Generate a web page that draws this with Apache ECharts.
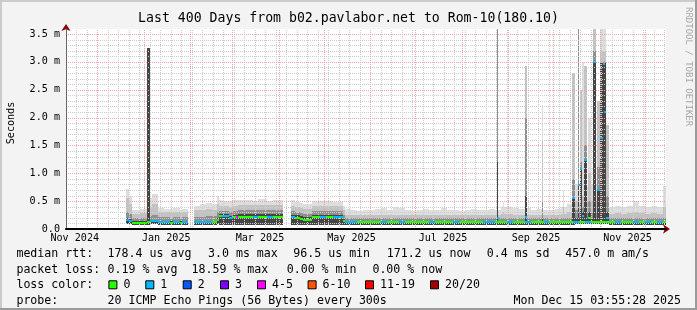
<!DOCTYPE html>
<html><head><meta charset="utf-8">
<script src="https://cdn.jsdelivr.net/npm/echarts@6/dist/echarts.min.js"></script>
<style>html,body{margin:0;padding:0;background:#f3f3f3}#c{width:697px;height:310px}</style>
</head><body><div id="c"></div>
<script>
// ---------- time range ----------
const endTime = Date.UTC(2025, 11, 15, 3, 55, 28);
const rangeDays = 400;
const DAY = 864e5;
const startTime = endTime - rangeDays * DAY;

// ---------- data (x in days since start, y in ms) ----------
const segStart = [
  40, 42, 44, 49.3, 54.3, 55.7, 57.3, 61.3, 65.3, 69.3, 71.3, 76, 77.3,
  85.3, 89.3, 93.3, 97.3, 100.7, 102, 104, 108.7, 111.3, 113.3, 114.7, 124.7, 128, 134, 138,
  150, 152.7, 156, 158, 164, 169.3, 173.3, 178, 184.7,
  186, 190, 194, 198, 202, 206, 210, 214, 218, 222, 226, 230, 234, 238, 242, 246, 250, 254, 258, 262,
  266, 270, 274, 278, 282, 286, 290, 294, 298, 302, 306, 310, 314, 318, 322, 326, 330, 334, 338, 342,
  346, 350, 354, 358, 362, 366, 370, 374, 378, 382, 386, 390, 394, 398,
  287.3, 291.3, 306, 317.3, 331.3, 337.3, 341.3, 342.7, 343.7, 345.3, 347.7, 351, 353.7, 356.3, 357.7, 358.7, 360.3
];
const segEnd = [
  42, 44, 49.3, 54.3, 55.7, 57.3, 61.3, 65.3, 69.3, 71.3, 76, 77.3, 81.3,
  89.3, 93.3, 97.3, 100.7, 102, 104, 108.7, 111.3, 113.3, 114.7, 124.7, 128, 134, 138, 144.7,
  152.7, 156, 158, 164, 169.3, 173.3, 178, 184.7, 186,
  190, 194, 198, 202, 206, 210, 214, 218, 222, 226, 230, 234, 238, 242, 246, 250, 254, 258, 262, 266,
  270, 274, 278, 282, 286, 290, 294, 298, 302, 306, 310, 314, 318, 322, 326, 330, 334, 338, 342, 346,
  350, 354, 358, 362, 366, 370, 374, 378, 382, 386, 390, 394, 398, 400,
  288.3, 292.3, 307.3, 318.3, 332.3, 339.3, 342.3, 343.7, 345, 347.3, 349.7, 353.3, 355.7, 357.7, 358.7, 360, 362.3
];
const smokeLo = [
  .09, .09, .08, .08, .08, .09, .09, .08, .08, .08, .08, .08, .08,
  .08, .08, .08, .08, .09, .08, .08, .08, .08, .08, .08, .08, .08, .08, .08,
  .08, .08, .08, .08, .08, .08, .08, .08, .08,
  .08, .08, .08, .08, .08, .08, .08, .08, .08, .08, .08, .08, .08, .08, .08, .08, .08, .08, .08, .08,
  .08, .08, .08, .08, .08, .08, .08, .08, .08, .08, .08, .08, .08, .08, .08, .08, .08, .08, .09, .09,
  .09, .09, .09, .09, .08, .08, .08, .08, .08, .08, .08, .08, .08, .08,
  .08, .08, .08, .08, .08, .08, .09, .09, .09, .09, .09, .09, .09, .09, .09, .09, .09
];
const smokeU1 = [
  .20, .18, .14, .14, 3.25, .17, .17, .14, .14, .14, .14, .14, .14,
  .14, .14, .15, .15, .20, .27, .27, .24, .26, .26, .27, .27, .27, .27, .27,
  .26, .25, .23, .21, .26, .26, .26, .26, .18,
  .15, .15, .15, .15, .15, .15, .15, .15, .15, .15, .15, .15, .15, .15, .15, .15, .15, .15, .15, .15,
  .15, .15, .15, .15, .15, .15, .15, .15, .15, .15, .15, .15, .15, .15, .15, .15, .15, .15, .20, .20,
  .20, .20, .20, .18, .15, .15, .15, .15, .15, .15, .15, .15, .15, .15,
  1.2, .15, .6, .2, .15, .56, .79, 1.07, .3, 1.24, .3, 3.0, .7, 2.98, 2.98, 2.98, .3
];
const smokeU2 = [
  .30, .27, .19, .20, 3.25, .24, .25, .21, .21, .20, .21, .20, .21,
  .22, .22, .23, .23, .30, .33, .33, .31, .33, .33, .34, .34, .34, .34, .34,
  .33, .31, .29, .27, .33, .33, .33, .33, .25,
  .19, .19, .19, .19, .19, .19, .19, .19, .19, .19, .19, .19, .19, .19, .19, .19, .19, .19, .19, .19,
  .19, .19, .19, .19, .19, .19, .19, .19, .19, .19, .19, .19, .19, .19, .19, .19, .19, .20, .35, .30,
  .30, .30, .30, .28, .19, .19, .19, .19, .19, .19, .19, .19, .19, .19,
  3.8, .2, 2.0, .5, .2, .9, 3.8, 1.2, .4, 1.5, .5, 3.2, 1.12, 3.0, 3.0, 3.0, .6
];
const smokeU3 = [
  .55, .45, .27, .28, 3.25, .40, .45, .30, .30, .29, .30, .29, .30,
  .34, .35, .36, .35, .45, .42, .42, .40, .42, .42, .43, .43, .43, .43, .43,
  .42, .40, .38, .36, .42, .42, .42, .42, .35,
  .25, .25, .25, .25, .25, .25, .25, .25, .26, .25, .25, .25, .25, .25, .25, .25, .25, .25, .25, .25,
  .25, .25, .25, .25, .25, .25, .27, .27, .26, .25, .25, .25, .25, .25, .25, .25, .27, .30, .50, .45,
  .50, .50, .45, .40, .27, .28, .27, .28, .30, .28, .27, .28, .27, .40,
  3.8, .3, 2.92, 1.6, .4, 2.8, 3.8, 2.5, .6, 2.93, 1.0, 3.8, 2.29, 3.2, 3.2, 3.2, 1.87
];
const smokeU4 = [
  .72, .60, .34, .36, 3.25, .55, .62, .37, .36, .36, .37, .35, .36,
  .42, .44, .47, .45, .60, .52, .50, .50, .52, .52, .52, .51, .53, .50, .52,
  .52, .48, .46, .45, .50, .50, .50, .48, .42,
  .36, .35, .33, .35, .34, .36, .37, .35, .40, .38, .34, .33, .35, .36, .34, .35, .37, .34, .35, .33,
  .34, .36, .35, .34, .36, .35, .40, .40, .38, .36, .37, .35, .36, .35, .34, .36, .40, .45, .80, .70,
  .75, .80, .70, .60, .40, .42, .40, .42, .50, .42, .40, .42, .40, .78,
  3.8, .49, 2.92, 2.22, .7, 2.8, 3.8, 2.5, 3.0, 2.93, 2.0, 3.8, 2.29, 3.8, 3.8, 3.8, 1.87
];
const medianMs = [
  .16, .14, .11, .11, .12, .15, .15, .12, .12, .11, .12, .11, .12,
  .12, .12, .12, .12, .16, .23, .23, .19, .22, .22, .22, .22, .22, .22, .22,
  .21, .20, .18, .16, .21, .21, .21, .21, .14,
  .125, .125, .125, .125, .125, .125, .125, .125, .125, .125, .125, .125, .125, .125, .125, .125, .125, .125, .125, .125,
  .125, .125, .125, .125, .125, .125, .125, .125, .125, .125, .125, .125, .125, .125, .125, .125, .125, .125, .13, .13,
  .13, .13, .13, .13, .125, .125, .125, .125, .125, .125, .125, .125, .125, .125,
  .2, .125, .22, .125, .125, .55, .79, 1.07, .23, 1.24, .2, 3.0, .7, 1.63, 2.96, 2.1, .2
];
const lossClass = [
  1, 1, 0, 0, 0, 1, 1, 1, 1, 0, 1, 0, 1,
  1, 1, 1, 0, 0, 0, 1, 1, 0, 4, 0, 1, 0, 1, 0,
  1, 0, 0, 0, 0, 1, 0, 1, 0,
  1, 1, 0, 0, 0, 0, 1, 0, 0, 1, 0, 0, 0, 0, 1, 0, 0, 0, 1, 0,
  0, 0, 0, 1, 1, 0, 0, 1, 0, 0, 1, 0, 0, 1, 0, 0, 0, 0, 1, 0,
  1, 0, 0, 0, 0, 1, 0, 0, 1, 0, 1, 0, 1, 0,
  1, 0, 1, 0, 0, 1, 1, 1, 1, 1, 0, 1, 1, 1, 1, 1, 1
];

// ---------- axis ticks / legend ----------
const yTicks = [0, 0.5, 1.0, 1.5, 2.0, 2.5, 3.0, 3.5];
const Y_MAX = 3.59;
const labelMonths = [[2024, 10], [2025, 0], [2025, 2], [2025, 4], [2025, 6], [2025, 8], [2025, 10]];
const labelOffsetDays = [15, 15, 18.5, 18.5, 18.5, 18.5, 18.5];
const monthNames = ['Jan','Feb','Mar','Apr','May','Jun','Jul','Aug','Sep','Oct','Nov','Dec'];
const lossColors = ['#26ff00', '#00b8ff', '#0059ff', '#7e00ff', '#ff00ff', '#ff5500', '#ff0000', '#a00000'];
const lossNames = ['0', '1', '2', '3', '4-5', '6-10', '11-19', '20/20'];
const titleText = 'Last 400 Days from b02.pavlabor.net to Rom-10(180.10)';
const statsRtt = ['median rtt:', '178.4 us avg', '3.0 ms max', '96.5 us min', '171.2 us now', '0.4 ms sd', '457.0 m am/s'];
const statsLoss = ['packet loss:', '0.19 % avg', '18.59 % max', '0.00 % min', '0.00 % now'];
const probeText = ['probe:', '20 ICMP Echo Pings (56 Bytes) every 300s', 'Mon Dec 15 03:55:28 2025'];

// ---------- derived grid positions (calendar) ----------
const toDay = ms => (ms - startTime) / DAY;
const monthDays = [];
for (let y = 2024, m = 11; ; m++) {
  if (m > 11) { m = 0; y++; }
  const d = toDay(Date.UTC(y, m, 1));
  if (d > rangeDays) break;
  monthDays.push(d);
}
const weekDays = [];
for (let d = toDay(Date.UTC(2024, 10, 17)); d < rangeDays; d += 7) weekDays.push(d);
const labelDays = labelMonths.map(([y, m], i) => toDay(Date.UTC(y, m, 1)) + labelOffsetDays[i]);
const labelText = labelMonths.map(([y, m]) => monthNames[m] + ' ' + y);
const yMinor = [];
for (let i = 1; i <= 35; i++) if (i % 5) yMinor.push(i / 10);
const yMajor = yTicks.filter(v => v > 0);

const MONO = '"DejaVu Sans Mono", monospace';
const chart = echarts.init(document.getElementById('c'), null, {renderer: 'canvas'});
const MINOR = '#cdcdcd', MAJOR = '#f3a4a4';

const bandColors = ['#dedede', '#c2c2c2', '#8f8f8f', '#454545'];
const bandTops = [smokeU4, smokeU3, smokeU2, smokeU1];
const series = bandTops.map((tops, k) => ({
  type: 'custom', silent: true, animation: false, xAxisIndex: 0, yAxisIndex: 0, z: 2,
  data: segStart.map((s, i) => [s, segEnd[i], smokeLo[i], tops[i]]),
  renderItem: (params, api) => {
    const a = api.coord([api.value(0), Math.min(api.value(3), Y_MAX)]);
    const b = api.coord([api.value(1), api.value(2)]);
    const x0 = Math.round(a[0]);
    const x1 = Math.max(Math.round(b[0]), x0 + 1);
    const y0 = Math.round(a[1]), y1 = Math.round(b[1]);
    return {type: 'rect', shape: {x: x0, y: y0, width: x1 - x0, height: y1 - y0}, style: {fill: bandColors[k]}};
  }
}));
// grid lines drawn through the axes' scales
const vLines = (vals, color, z) => ({
  type: 'custom', silent: true, animation: false, z: z, data: vals.map(v => [v]),
  renderItem: (p, api) => {
    const a = api.coord([api.value(0), 0]);
    const b = api.coord([api.value(0), Y_MAX]);
    const x = Math.round(a[0]) + 0.5;
    return {type: 'line', shape: {x1: x, y1: a[1], x2: x, y2: b[1]}, style: {stroke: color, lineWidth: 1, lineDash: [1, 1]}};
  }
});
const hLines = (vals, color, z) => ({
  type: 'custom', silent: true, animation: false, z: z, data: vals.map(v => [0, v]),
  renderItem: (p, api) => {
    const a = api.coord([0, api.value(1)]);
    const b = api.coord([rangeDays, api.value(1)]);
    const y = Math.round(a[1]) + 0.5;
    return {type: 'line', shape: {x1: a[0], y1: y, x2: b[0], y2: y}, style: {stroke: color, lineWidth: 1, lineDash: [1, 1]}};
  }
});
series.push(vLines(weekDays, MINOR, 3), hLines(yMinor, MINOR, 3), vLines(monthDays, MAJOR, 4), hLines(yMajor, MAJOR, 4));
series.push({
  type: 'custom', silent: true, animation: false, xAxisIndex: 0, yAxisIndex: 0, z: 5,
  data: segStart.map((s, i) => [s, segEnd[i], medianMs[i], lossClass[i]]),
  renderItem: (params, api) => {
    const a = api.coord([api.value(0), api.value(2)]);
    const b = api.coord([api.value(1), api.value(2)]);
    const x0 = Math.round(a[0]);
    const x1 = Math.max(Math.round(b[0]), x0 + 2);
    return {type: 'rect', shape: {x: x0, y: Math.round(a[1]) - 1, width: x1 - x0, height: 2}, style: {fill: lossColors[api.value(3)]}};
  }
});

const dateLabel = v => {
  let best = 0;
  labelDays.forEach((d, i) => { if (Math.abs(d - v) < Math.abs(labelDays[best] - v)) best = i; });
  return labelText[best];
};

const graphic = [
  {type: 'rect', silent: true, shape: {x: 0, y: 0, width: 697, height: 2}, style: {fill: '#cbcbcb'}},
  {type: 'rect', silent: true, shape: {x: 0, y: 0, width: 2, height: 310}, style: {fill: '#cbcbcb'}},
  {type: 'rect', silent: true, shape: {x: 0, y: 308, width: 697, height: 2}, style: {fill: '#9a9a9a'}},
  {type: 'rect', silent: true, shape: {x: 695, y: 0, width: 2, height: 310}, style: {fill: '#9a9a9a'}},
  {type: 'text', silent: true, x: 348.5, y: 19, style: {text: titleText, font: '13.2px ' + MONO, fill: '#000', textAlign: 'center', textVerticalAlign: 'middle'}},
  {type: 'text', silent: true, x: 688, y: 7, rotation: -Math.PI / 2, style: {text: 'RRDTOOL / TOBI OETIKER', font: '9px ' + MONO, fill: '#a8a8a8', textAlign: 'left', textVerticalAlign: 'middle'}},
  {type: 'text', silent: true, x: 11, y: 123, rotation: Math.PI / 2, style: {text: 'Seconds', font: '10.1px ' + MONO, fill: '#000', textAlign: 'center', textVerticalAlign: 'middle'}}
];
const LF = '11.6px ' + MONO;
const rowY = [254, 269.7, 285.3, 301];
const rttX = [16.4, 107.6, 208, 293.3, 386.7, 486.7, 565.3];
statsRtt.forEach((t, i) => graphic.push({type: 'text', silent: true, x: rttX[i], y: rowY[0], style: {text: t, font: LF, fill: '#000', textVerticalAlign: 'middle'}}));
const lossX = [16.4, 107.6, 191.5, 286.7, 372.4];
statsLoss.forEach((t, i) => graphic.push({type: 'text', silent: true, x: lossX[i], y: rowY[1], style: {text: t, font: LF, fill: '#000', textVerticalAlign: 'middle'}}));
graphic.push({type: 'text', silent: true, x: 16.4, y: rowY[2], style: {text: 'loss color:', font: LF, fill: '#000', textVerticalAlign: 'middle'}});
const boxX = [108.4, 145.3, 182.7, 220, 257, 307.6, 365, 430];
lossNames.forEach((t, i) => {
  graphic.push({type: 'rect', silent: true, shape: {x: boxX[i] + 0.5, y: rowY[2] - 4.5, width: 8, height: 8}, style: {fill: lossColors[i], stroke: '#000', lineWidth: 1}});
  graphic.push({type: 'text', silent: true, x: boxX[i] + 15, y: rowY[2], style: {text: t, font: LF, fill: '#000', textVerticalAlign: 'middle'}});
});
graphic.push({type: 'text', silent: true, x: 16.4, y: rowY[3], style: {text: probeText[0], font: LF, fill: '#000', textVerticalAlign: 'middle'}});
graphic.push({type: 'text', silent: true, x: 107.6, y: rowY[3], style: {text: probeText[1], font: LF, fill: '#000', textVerticalAlign: 'middle'}});
graphic.push({type: 'text', silent: true, x: 681, y: rowY[3], style: {text: probeText[2], font: LF, fill: '#000', textAlign: 'right', textVerticalAlign: 'middle'}});

chart.setOption({
  animation: false,
  backgroundColor: '#f3f3f3',
  grid: {left: 66, top: 29, width: 600, height: 200, show: true, backgroundColor: '#ffffff', borderWidth: 0, containLabel: false, outerBoundsMode: 'none'},
  xAxis: [
    {type: 'value', min: 0, max: rangeDays, position: 'bottom', z: 6,
      axisLine: {show: true, onZero: false, lineStyle: {color: '#000', width: 2}},
      axisTick: {show: false},
      axisLabel: {customValues: labelDays, formatter: dateLabel, fontFamily: MONO, fontSize: 10.1, color: '#000', margin: 4},
      splitLine: {show: false}},
    {type: 'value', min: 0, max: rangeDays, position: 'bottom', z: 5,
      axisLine: {show: true, onZero: false, symbol: ['none', 'arrow'], symbolSize: [7, 7], symbolOffset: [0, 4], lineStyle: {color: '#8b0000', width: 1}},
      axisTick: {show: false}, axisLabel: {show: false}, splitLine: {show: false}}
  ],
  yAxis: [
    {type: 'value', min: 0, max: Y_MAX, position: 'left', z: 6,
      axisLine: {show: true, onZero: false, lineStyle: {color: '#666', width: 1}},
      axisTick: {show: false},
      axisLabel: {customValues: yTicks, formatter: v => v === 0 ? '0.0' : v.toFixed(1) + ' m', fontFamily: MONO, fontSize: 10.1, color: '#000', margin: 6},
      splitLine: {show: false}},
    {type: 'value', min: 0, max: Y_MAX, position: 'left', z: 5,
      axisLine: {show: true, onZero: false, symbol: ['none', 'arrow'], symbolSize: [7, 7], symbolOffset: [0, 5], lineStyle: {color: '#8b0000', width: 1}},
      axisTick: {show: false}, axisLabel: {show: false}, splitLine: {show: false}}
  ],
  series: series,
  graphic: graphic
});
</script></body></html>
